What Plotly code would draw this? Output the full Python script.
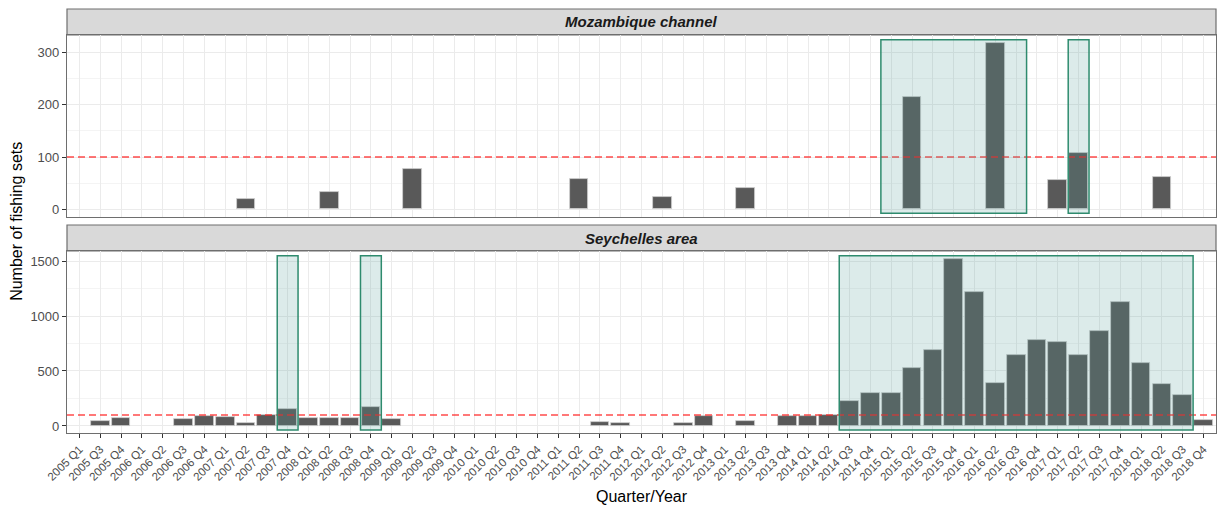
import plotly.graph_objects as go

quarters = [
    "2005 Q1", "2005 Q3", "2005 Q4",
    "2006 Q1", "2006 Q2", "2006 Q3", "2006 Q4",
    "2007 Q1", "2007 Q2", "2007 Q3", "2007 Q4",
    "2008 Q1", "2008 Q2", "2008 Q3", "2008 Q4",
    "2009 Q1", "2009 Q2", "2009 Q3", "2009 Q4",
    "2010 Q1", "2010 Q2", "2010 Q3", "2010 Q4",
    "2011 Q1", "2011 Q2", "2011 Q3", "2011 Q4",
    "2012 Q1", "2012 Q2", "2012 Q3", "2012 Q4",
    "2013 Q1", "2013 Q2", "2013 Q3", "2013 Q4",
    "2014 Q1", "2014 Q2", "2014 Q3", "2014 Q4",
    "2015 Q1", "2015 Q2", "2015 Q3", "2015 Q4",
    "2016 Q1", "2016 Q2", "2016 Q3", "2016 Q4",
    "2017 Q1", "2017 Q2", "2017 Q3", "2017 Q4",
    "2018 Q1", "2018 Q2", "2018 Q3", "2018 Q4",
]

seychelles_sets = [
    None, 42, 76,
    None, None, 67, 94,
    79, 27, 100, 152,
    70, 70, 70, 173,
    67, None, None, None,
    None, None, None, None,
    None, None, 33, 30,
    None, None, 27, 88,
    None, 49, None, 88,
    88, 100, 231, 304,
    304, 526, 687, 1517,
    1222, 392, 641, 781,
    766, 641, 860, 1128,
    568, 380, 283, 55,
]

mozambique_sets = [
    None, None, None,
    None, None, None, None,
    None, 20, None, None,
    None, 33, None, None,
    None, 77, None, None,
    None, None, None, None,
    None, 58, None, None,
    None, 23, None, None,
    None, 40, None, None,
    None, None, None, None,
    None, 214, None, None,
    None, 318, None, None,
    57, 107, None, None,
    None, 62, None, None,
]

threshold = 100

# highlighted periods (first quarter, last quarter)
mozambique_highlights = [("2015 Q1", "2016 Q3"), ("2017 Q2", "2017 Q2")]
seychelles_highlights = [("2007 Q4", "2007 Q4"), ("2008 Q4", "2008 Q4"), ("2014 Q3", "2018 Q3")]

panel_titles = ["Mozambique channel", "Seychelles area"]

BAR = "#595959"
BAR_EDGE = "#d0d0d0"
GRID = "#EBEBEB"
GRID_MINOR = "#F4F4F4"
BORDER = "#6e6e6e"
FONT = "Liberation Sans, Arial, sans-serif"
HL_FILL = "rgba(80,155,150,0.20)"
HL_LINE = "#2E8B6E"

fig = go.Figure()
fig.add_trace(go.Bar(x=quarters, y=mozambique_sets, xaxis="x2", yaxis="y2",
                     width=0.9, marker=dict(color=BAR, line=dict(color=BAR_EDGE, width=0.8)),
                     showlegend=False, hoverinfo="x+y"))
fig.add_trace(go.Bar(x=quarters, y=seychelles_sets, xaxis="x", yaxis="y",
                     width=0.9, marker=dict(color=BAR, line=dict(color=BAR_EDGE, width=0.8)),
                     showlegend=False, hoverinfo="x+y"))

shapes = []
# threshold lines
for xr, yr in (("x2", "y2"), ("x", "y")):
    shapes.append(dict(type="line", xref=xr + " domain", yref=yr, x0=0, x1=1,
                       y0=threshold, y1=threshold,
                       line=dict(color="rgba(255,30,30,0.8)", width=1.5, dash="7px,4px"),
                       layer="above"))

def add_highlights(hls, values, xr, yr):
    vmax = max(v for v in values if v is not None)
    for a, b in hls:
        i0 = quarters.index(a)
        i1 = quarters.index(b)
        shapes.append(dict(type="rect", xref=xr, yref=yr,
                           x0=i0 - 0.5, x1=i1 + 0.5,
                           y0=-0.024 * vmax, y1=1.02 * vmax,
                           fillcolor=HL_FILL, line=dict(color=HL_LINE, width=1.5),
                           layer="above"))

add_highlights(mozambique_highlights, mozambique_sets, "x2", "y2")
add_highlights(seychelles_highlights, seychelles_sets, "x", "y")

# strips
top_dom = [0.5087, 0.9387]
bot_dom = [0.0, 0.4292]
strips = [(0.9387, 1.0), (0.4292, 0.4906)]
for (s0, s1), title in zip(strips, panel_titles):
    shapes.append(dict(type="rect", xref="paper", yref="paper", x0=0, x1=1, y0=s0, y1=s1,
                       fillcolor="#D9D9D9", line=dict(color=BORDER, width=1.2), layer="below"))
annotations = []
for (s0, s1), title in zip(strips, panel_titles):
    annotations.append(dict(text="<b><i>" + title + "</i></b>", xref="paper", yref="paper",
                            x=0.5, y=(s0 + s1) / 2, showarrow=False, xanchor="center",
                            yanchor="middle", font=dict(family=FONT, size=15, color="#1A1A1A")))

annotations.append(dict(text="Number of fishing sets", xref="paper", yref="paper",
                        x=-0.0445, y=0.5, xanchor="center", yanchor="middle", showarrow=False,
                        textangle=-90, font=dict(family=FONT, size=16, color="#000000")))
annotations.append(dict(text="Quarter/Year", xref="paper", yref="paper",
                        x=0.5, y=-0.149, xanchor="center", yanchor="middle", showarrow=False,
                        font=dict(family=FONT, size=16, color="#000000")))

axis_common = dict(showgrid=True, gridcolor=GRID, gridwidth=1, zeroline=False,
                   showline=True, linecolor=BORDER, linewidth=1.2, mirror=True)

fig.update_layout(
    width=1218, height=508,
    margin=dict(l=67, r=2, t=9, b=75),
    paper_bgcolor="white", plot_bgcolor="white",
    bargap=0, barmode="overlay",
    font=dict(family=FONT, color="#4D4D4D"),
    shapes=shapes, annotations=annotations,
    xaxis=dict(type="category", categoryorder="array", categoryarray=quarters,
               range=[-0.6, len(quarters) - 0.4], anchor="y", domain=[0, 1],
               tickangle=-45, ticks="outside", ticklen=4, tickcolor="#333333",
               tickfont=dict(family=FONT, size=11.5, color="#4D4D4D"), **axis_common),
    xaxis2=dict(type="category", categoryorder="array", categoryarray=quarters,
                range=[-0.6, len(quarters) - 0.4], anchor="y2", domain=[0, 1], matches="x",
                showticklabels=False, ticks="", **axis_common),
    yaxis=dict(domain=bot_dom, anchor="x", range=[-64, 1591],
               tickvals=[0, 500, 1000, 1500], ticks="outside", ticklen=4, tickcolor="#333333",
               tickfont=dict(family=FONT, size=13, color="#4D4D4D"),
               minor=dict(tickvals=[250, 750, 1250], showgrid=True, gridcolor=GRID_MINOR, ticks=""),
               **axis_common),
    yaxis2=dict(domain=top_dom, anchor="x2", range=[-15.3, 333.3],
                tickvals=[0, 100, 200, 300], ticks="outside", ticklen=4, tickcolor="#333333",
                tickfont=dict(family=FONT, size=13, color="#4D4D4D"),
                minor=dict(tickvals=[50, 150, 250], showgrid=True, gridcolor=GRID_MINOR, ticks=""),
                **axis_common),
)

fig.write_html("out.html", config={"displayModeBar": False},
               post_script="document.body.style.margin='0';document.body.style.overflow='hidden';")
